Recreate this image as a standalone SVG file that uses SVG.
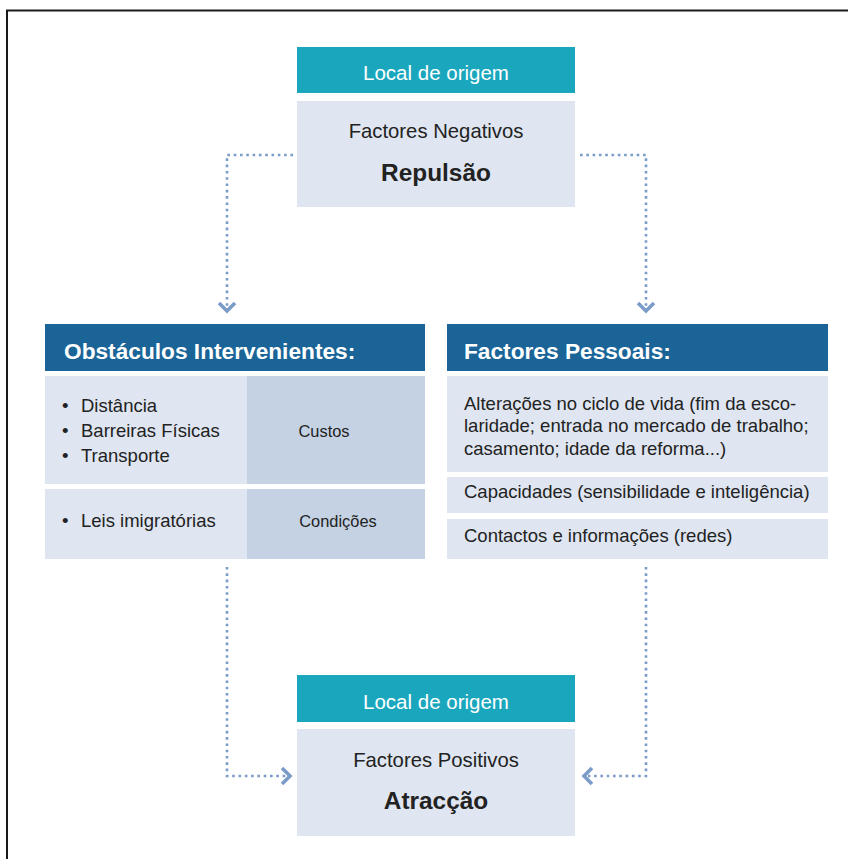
<svg xmlns="http://www.w3.org/2000/svg" width="848" height="859" viewBox="0 0 848 859">
  <style>
    text { font-family: "Liberation Sans", sans-serif; }
    .teal { fill: #1aa7be; }
    .light { fill: #dfe6f1; }
    .mid { fill: #c5d2e4; }
    .dark { fill: #1a6497; }
    .cap { fill: #ffffff; font-size: 20.5px; text-anchor: middle; }
    .hdr { fill: #ffffff; font-size: 22.7px; font-weight: bold; }
    .sub { fill: #222222; font-size: 20.3px; text-anchor: middle; }
    .big { fill: #222222; font-size: 24.4px; font-weight: bold; text-anchor: middle; }
    .body { fill: #222222; font-size: 18.5px; }
    .mid-t { fill: #222222; font-size: 16.4px; text-anchor: middle; }
    .dots { fill: none; stroke: #7b9cc8; stroke-width: 2.6; stroke-dasharray: 2.6 3.7; }
    .chev { fill: none; stroke: #7b9cc8; stroke-width: 3.6; stroke-linecap: butt; stroke-linejoin: miter; }
  </style>

  <rect width="848" height="859" fill="#ffffff"/>
  <!-- outer frame -->
  <rect x="7" y="10.5" width="870" height="880" fill="none" stroke="#1a1a1a" stroke-width="2"/>

  <!-- origin (push factors) -->
  <g id="origem-topo">
    <rect class="teal" x="297" y="47" width="278" height="46"/>
    <text class="cap" x="436" y="80">Local de origem</text>
    <rect class="light" x="297" y="101" width="278" height="106"/>
    <text class="sub" x="436" y="138">Factores Negativos</text>
    <text class="big" x="436" y="181">Repulsão</text>
  </g>

  <!-- intervening obstacles -->
  <g id="obstaculos">
    <rect class="dark" x="45" y="324" width="380" height="47"/>
    <text class="hdr" x="64" y="359">Obstáculos Intervenientes:</text>
    <rect class="light" x="45" y="376" width="202" height="108"/>
    <rect class="mid" x="247" y="376" width="178" height="108"/>
    <rect class="light" x="45" y="489" width="202" height="70"/>
    <rect class="mid" x="247" y="489" width="178" height="70"/>
    <text class="body" x="62" y="412">•</text>
    <text class="body" x="81" y="412">Distância</text>
    <text class="body" x="62" y="437">•</text>
    <text class="body" x="81" y="437">Barreiras Físicas</text>
    <text class="body" x="62" y="462">•</text>
    <text class="body" x="81" y="462">Transporte</text>
    <text class="mid-t" x="324" y="437">Custos</text>
    <text class="body" x="62" y="527">•</text>
    <text class="body" x="81" y="527">Leis imigratórias</text>
    <text class="mid-t" x="338" y="527">Condições</text>
  </g>

  <!-- personal factors -->
  <g id="pessoais">
    <rect class="dark" x="447" y="324" width="381" height="47"/>
    <text class="hdr" x="464" y="359">Factores Pessoais:</text>
    <rect class="light" x="447" y="376" width="381" height="96"/>
    <rect class="light" x="447" y="477" width="381" height="36"/>
    <rect class="light" x="447" y="519" width="381" height="40"/>
    <text class="body" x="464" y="410">Alterações no ciclo de vida (fim da esco-</text>
    <text class="body" x="464" y="432">laridade; entrada no mercado de trabalho;</text>
    <text class="body" x="464" y="455">casamento; idade da reforma...)</text>
    <text class="body" x="464" y="498">Capacidades (sensibilidade e inteligência)</text>
    <text class="body" x="464" y="542">Contactos e informações (redes)</text>
  </g>

  <!-- destination (pull factors) -->
  <g id="origem-base">
    <rect class="teal" x="297" y="675" width="278" height="47"/>
    <text class="cap" x="436" y="709">Local de origem</text>
    <rect class="light" x="297" y="729" width="278" height="107"/>
    <text class="sub" x="436" y="767">Factores Positivos</text>
    <text class="big" x="436" y="809">Atracção</text>
  </g>

  <!-- connectors -->
  <g id="connectors">
    <path class="dots" d="M293 155 H227 V308"/>
    <path class="chev" d="M219 303 L227 311 L235 303"/>
    <path class="dots" d="M580 155 H646 V308"/>
    <path class="chev" d="M638 303 L646 311 L654 303"/>
    <path class="dots" d="M227 567 V776 H286"/>
    <path class="chev" d="M282 768 L290 776 L282 784"/>
    <path class="dots" d="M646 567 V776 H588"/>
    <path class="chev" d="M592 768 L584 776 L592 784"/>
  </g>
</svg>
